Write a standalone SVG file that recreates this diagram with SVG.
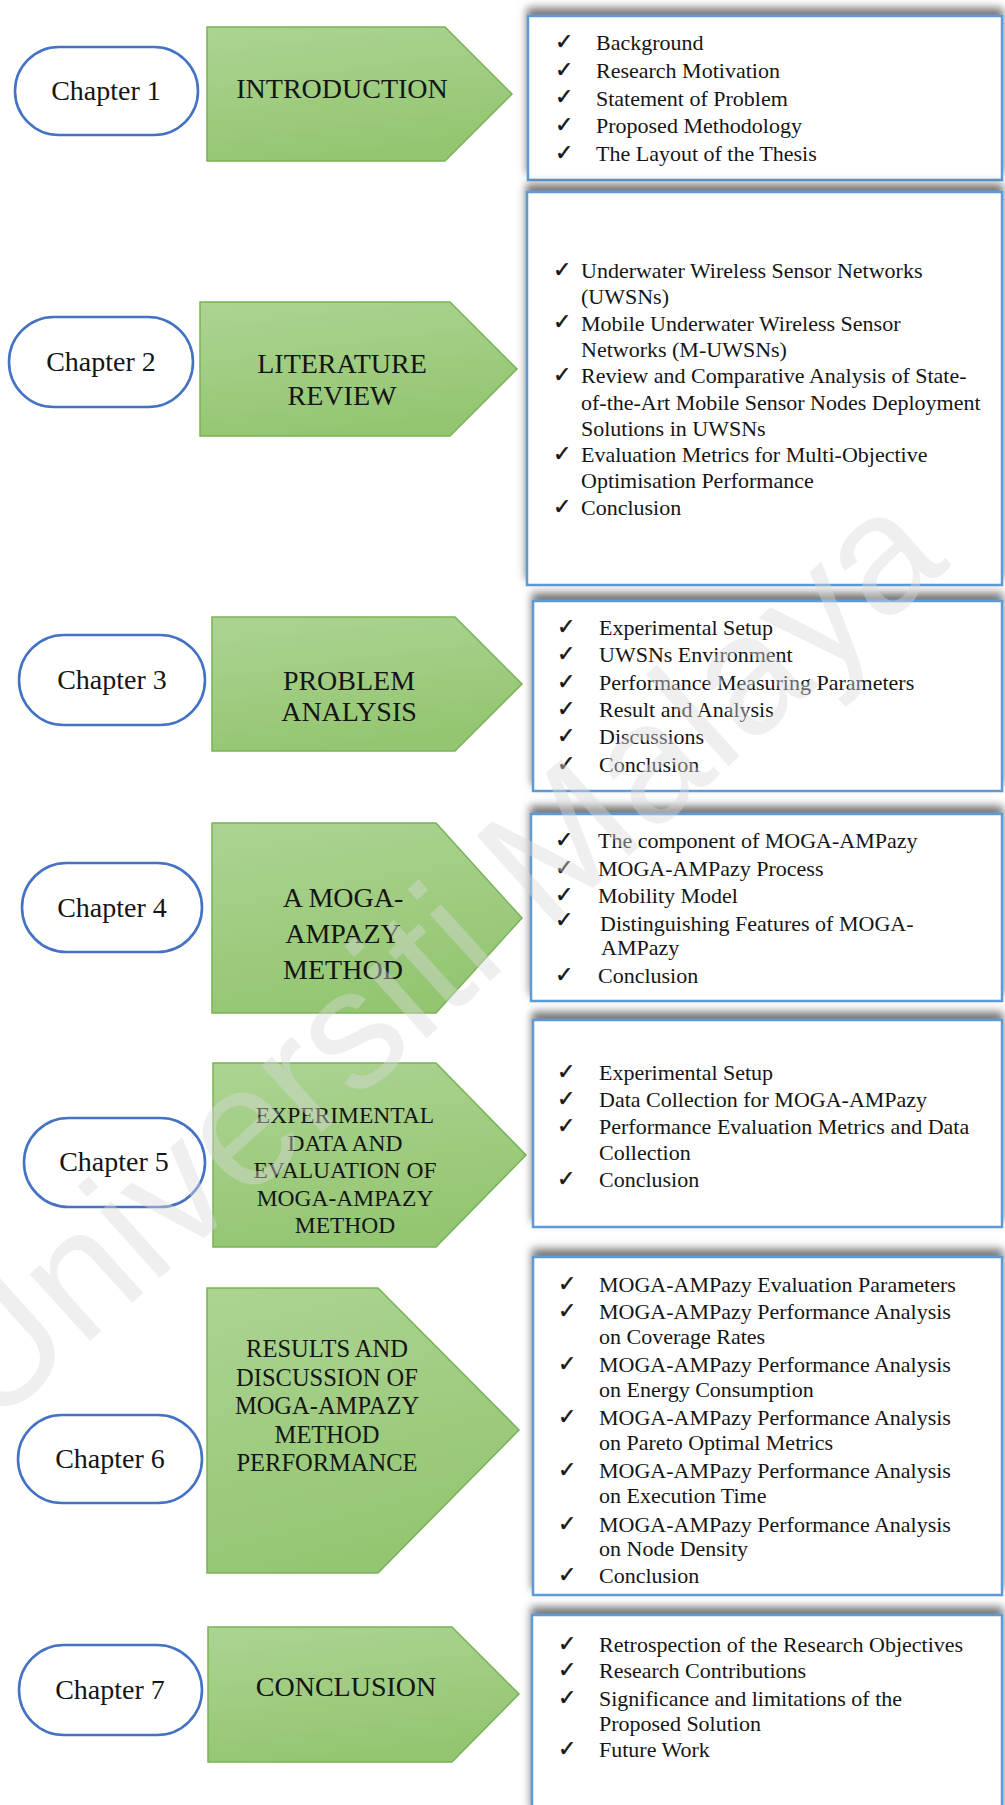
<svg xmlns="http://www.w3.org/2000/svg" width="1005" height="1805" viewBox="0 0 1005 1805">
  <defs>
    <linearGradient id="greenFill" x1="0" y1="0" x2="0.3" y2="1">
      <stop offset="0" stop-color="#acd492"/>
      <stop offset="1" stop-color="#94c672"/>
    </linearGradient>
    <filter id="topShadow" x="-5%" y="-20%" width="110%" height="140%">
      <feGaussianBlur in="SourceAlpha" stdDeviation="4"/>
      <feOffset dx="0" dy="-7" result="blur"/>
      <feFlood flood-color="#555555" flood-opacity="0.8"/>
      <feComposite in2="blur" operator="in"/>
      <feMerge>
        <feMergeNode/>
        <feMergeNode in="SourceGraphic"/>
      </feMerge>
    </filter>
  </defs>
  <style>
    .pill { fill: #ffffff; stroke: #4472c4; stroke-width: 2.6; }
    .arrow { fill: url(#greenFill); stroke: #79b256; stroke-width: 1.5; }
    .box { fill: #ffffff; stroke: #5b9bd5; stroke-width: 2.5; filter: url(#topShadow); }
    .chap { font-family: "Liberation Serif", "Times New Roman", serif; font-size: 28px; fill: #151515; text-anchor: middle; }
    .title { font-family: "Liberation Serif", "Times New Roman", serif; font-size: 28px; fill: #151515; text-anchor: middle; }
    .title.sm { font-size: 23.5px; }
    .title.md { font-size: 24.5px; }
    .item { font-family: "Liberation Serif", "Times New Roman", serif; font-size: 22px; fill: #151515; }
    .tick { font-family: "DejaVu Sans", sans-serif; font-size: 22px; fill: #151515; stroke: #151515; stroke-width: 0.5; }
    .mark { font-family: "Liberation Sans", Arial, sans-serif; font-size: 170px; fill: #dadada; fill-opacity: 0.42; }
  </style>

  <rect width="1005" height="1805" fill="#ffffff"/>

  <!-- Chapter 1 -->
  <g id="chapter1">
    <rect class="pill" x="15" y="47" width="183" height="88" rx="44"/>
    <text class="chap" x="106" y="100">Chapter 1</text>
    <path class="arrow" d="M207,27 H445 L512,94 L445,161 H207 Z"/>
    <text class="title" x="342" y="98">INTRODUCTION</text>
    <rect class="box" x="528" y="16" width="474" height="164"/>
    <g class="tick"><text x="555" y="49">✓</text><text x="555" y="77">✓</text><text x="555" y="104">✓</text><text x="555" y="132">✓</text><text x="555" y="160">✓</text></g>
    <g class="item">
      <text x="596" y="50">Background</text>
      <text x="596" y="78">Research Motivation</text>
      <text x="596" y="105.5">Statement of Problem</text>
      <text x="596" y="133">Proposed Methodology</text>
      <text x="596" y="161">The Layout of the Thesis</text>
    </g>
  </g>

  <!-- Chapter 2 -->
  <g id="chapter2">
    <rect class="pill" x="9" y="317" width="184" height="90" rx="45"/>
    <text class="chap" x="101" y="371">Chapter 2</text>
    <path class="arrow" d="M200,302 H450 L517,369 L450,436 H200 Z"/>
    <text class="title" x="342" y="373">LITERATURE</text>
    <text class="title" x="342" y="405">REVIEW</text>
    <rect class="box" x="527" y="192" width="475" height="393"/>
    <g class="tick"><text x="553" y="277">✓</text><text x="553" y="329">✓</text><text x="553" y="382">✓</text><text x="553" y="461">✓</text><text x="553" y="514">✓</text></g>
    <g class="item">
      <text x="581" y="278">Underwater Wireless Sensor Networks</text>
      <text x="581" y="304">(UWSNs)</text>
      <text x="581" y="330.5">Mobile Underwater Wireless Sensor</text>
      <text x="581" y="357">Networks (M-UWSNs)</text>
      <text x="581" y="383">Review and Comparative Analysis of State-</text>
      <text x="581" y="409.5">of-the-Art Mobile Sensor Nodes Deployment</text>
      <text x="581" y="436">Solutions in UWSNs</text>
      <text x="581" y="462">Evaluation Metrics for Multi-Objective</text>
      <text x="581" y="488">Optimisation Performance</text>
      <text x="581" y="515">Conclusion</text>
    </g>
  </g>

  <!-- Chapter 3 -->
  <g id="chapter3">
    <rect class="pill" x="19" y="635" width="186" height="90" rx="45"/>
    <text class="chap" x="112" y="689">Chapter 3</text>
    <path class="arrow" d="M212,617 H455 L522,684 L455,751 H212 Z"/>
    <text class="title" x="349" y="690">PROBLEM</text>
    <text class="title" x="349" y="721">ANALYSIS</text>
    <rect class="box" x="533" y="601" width="469" height="190"/>
    <g class="tick"><text x="557" y="634">✓</text><text x="557" y="661">✓</text><text x="557" y="689">✓</text><text x="557" y="716">✓</text><text x="557" y="743">✓</text><text x="557" y="771">✓</text></g>
    <g class="item">
      <text x="599" y="635">Experimental Setup</text>
      <text x="599" y="662">UWSNs Environment</text>
      <text x="599" y="690">Performance Measuring Parameters</text>
      <text x="599" y="717">Result and Analysis</text>
      <text x="599" y="744">Discussions</text>
      <text x="599" y="772">Conclusion</text>
    </g>
  </g>

  <!-- Chapter 4 -->
  <g id="chapter4">
    <rect class="pill" x="22" y="863" width="180" height="89" rx="44.5"/>
    <text class="chap" x="112" y="917">Chapter 4</text>
    <path class="arrow" d="M212,823 H436 L522,918 L436,1013 H212 Z"/>
    <text class="title" x="343" y="907">A MOGA-</text>
    <text class="title" x="343" y="943">AMPAZY</text>
    <text class="title" x="343" y="979">METHOD</text>
    <rect class="box" x="531" y="814" width="471" height="187"/>
    <g class="tick"><text x="555" y="847">✓</text><text x="555" y="875">✓</text><text x="555" y="902">✓</text><text x="555" y="927">✓</text><text x="555" y="982">✓</text></g>
    <g class="item">
      <text x="598" y="848">The component of MOGA-AMPazy</text>
      <text x="598" y="876">MOGA-AMPazy Process</text>
      <text x="598" y="903">Mobility Model</text>
      <text x="600" y="931">Distinguishing Features of MOGA-</text>
      <text x="601" y="955">AMPazy</text>
      <text x="598" y="983">Conclusion</text>
    </g>
  </g>

  <!-- Chapter 5 -->
  <g id="chapter5">
    <rect class="pill" x="24" y="1118" width="181" height="89" rx="44.5"/>
    <text class="chap" x="114" y="1171">Chapter 5</text>
    <path class="arrow" d="M213,1063 H436 L526,1155 L436,1247 H213 Z"/>
    <text class="title sm" x="345" y="1123">EXPERIMENTAL</text>
    <text class="title sm" x="345" y="1150.5">DATA AND</text>
    <text class="title sm" x="345" y="1178">EVALUATION OF</text>
    <text class="title sm" x="345" y="1205.5">MOGA-AMPAZY</text>
    <text class="title sm" x="345" y="1233">METHOD</text>
    <rect class="box" x="533" y="1020" width="469" height="207"/>
    <g class="tick"><text x="557" y="1079">✓</text><text x="557" y="1106">✓</text><text x="557" y="1133">✓</text><text x="557" y="1186">✓</text></g>
    <g class="item">
      <text x="599" y="1080">Experimental Setup</text>
      <text x="599" y="1107">Data Collection for MOGA-AMPazy</text>
      <text x="599" y="1134">Performance Evaluation Metrics and Data</text>
      <text x="599" y="1160">Collection</text>
      <text x="599" y="1187">Conclusion</text>
    </g>
  </g>

  <!-- Chapter 6 -->
  <g id="chapter6">
    <rect class="pill" x="18" y="1415" width="184" height="88" rx="44"/>
    <text class="chap" x="110" y="1468">Chapter 6</text>
    <path class="arrow" d="M207,1288 H378 L519,1430 L378,1573 H207 Z"/>
    <text class="title md" x="327" y="1357">RESULTS AND</text>
    <text class="title md" x="327" y="1385.5">DISCUSSION OF</text>
    <text class="title md" x="327" y="1414">MOGA-AMPAZY</text>
    <text class="title md" x="327" y="1442.5">METHOD</text>
    <text class="title md" x="327" y="1471">PERFORMANCE</text>
    <rect class="box" x="533" y="1257" width="469" height="338"/>
    <g class="tick"><text x="558" y="1291">✓</text><text x="558" y="1318">✓</text><text x="558" y="1371">✓</text><text x="558" y="1424">✓</text><text x="558" y="1477">✓</text><text x="558" y="1531">✓</text><text x="558" y="1582">✓</text></g>
    <g class="item">
      <text x="599" y="1292">MOGA-AMPazy Evaluation Parameters</text>
      <text x="599" y="1319">MOGA-AMPazy Performance Analysis</text>
      <text x="599" y="1344">on Coverage Rates</text>
      <text x="599" y="1372">MOGA-AMPazy Performance Analysis</text>
      <text x="599" y="1397">on Energy Consumption</text>
      <text x="599" y="1425">MOGA-AMPazy Performance Analysis</text>
      <text x="599" y="1449.5">on Pareto Optimal Metrics</text>
      <text x="599" y="1478">MOGA-AMPazy Performance Analysis</text>
      <text x="599" y="1503">on Execution Time</text>
      <text x="599" y="1532">MOGA-AMPazy Performance Analysis</text>
      <text x="599" y="1555.5">on Node Density</text>
      <text x="599" y="1583">Conclusion</text>
    </g>
  </g>

  <!-- Chapter 7 -->
  <g id="chapter7">
    <rect class="pill" x="19" y="1645" width="183" height="90" rx="45"/>
    <text class="chap" x="110" y="1699">Chapter 7</text>
    <path class="arrow" d="M208,1627 H452 L519,1694 L452,1762 H208 Z"/>
    <text class="title" x="346" y="1696">CONCLUSION</text>
    <rect class="box" x="532" y="1615" width="470" height="200"/>
    <g class="tick"><text x="558" y="1651">✓</text><text x="558" y="1677">✓</text><text x="558" y="1705">✓</text><text x="558" y="1756">✓</text></g>
    <g class="item">
      <text x="599" y="1652">Retrospection of the Research Objectives</text>
      <text x="599" y="1678">Research Contributions</text>
      <text x="599" y="1706">Significance and limitations of the</text>
      <text x="599" y="1731">Proposed Solution</text>
      <text x="599" y="1757">Future Work</text>
    </g>
  </g>

  <!-- no connectors between the chapter rows -->
  <g id="connectors"/>

  <!-- faint diagonal watermark over the page -->
  <text class="mark" transform="translate(-10,1431) rotate(-42)">Universiti Malaya</text>
</svg>
